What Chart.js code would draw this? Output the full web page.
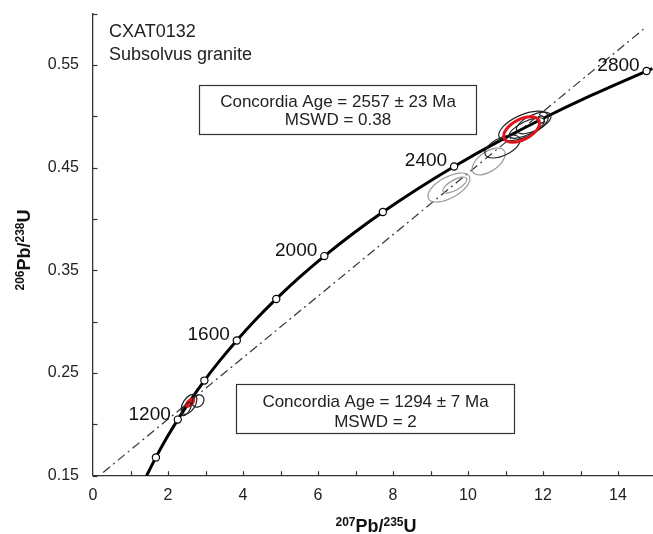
<!DOCTYPE html>
<html><head><meta charset="utf-8">
<script src="https://cdn.jsdelivr.net/npm/chart.js@4.4.0/dist/chart.umd.min.js"></script>
<style>html,body{margin:0;padding:0;background:#fff}#wrap{width:653px;height:534px}</style>
</head><body><div id="wrap"><canvas id="c" width="653" height="534"></canvas></div>
<script>
// Concordia curve (207Pb/235U vs 206Pb/238U), ages 900-2810 Ma
const concordiaAges = [900,1000,1100,1200,1300,1400,1500,1600,1700,1800,1900,2000,2100,2200,2300,2400,2500,2600,2700,2800,2810];
const concordiaX = [1.4263,1.6774,1.9545,2.2603,2.5977,2.9701,3.3810,3.8344,4.3348,4.8869,5.4962,6.1685,6.9105,7.7292,8.6326,9.6296,10.7297,11.9437,13.2834,14.7617,14.9177];
const concordiaY = [0.1498,0.1678,0.1861,0.2046,0.2234,0.2426,0.2620,0.2817,0.3018,0.3221,0.3428,0.3638,0.3851,0.4067,0.4287,0.4511,0.4738,0.4968,0.5202,0.5440,0.5464];
// Age markers (every 200 Ma)
const markerAges = [1000,1200,1400,1600,1800,2000,2200,2400,2600,2800];
const markerX = [1.6774,2.2603,2.9701,3.8344,4.8869,6.1685,7.7292,9.6296,11.9437,14.7617];
const markerY = [0.1678,0.2046,0.2426,0.2817,0.3221,0.3638,0.4067,0.4511,0.4968,0.5440];
const labelledAges = [1200,1600,2000,2400,2800];
// Discordia line
const discordiaX = [0.27,14.75];
const discordiaY = [0.1532,0.5868];
// Analysis ellipses: centre, half-extents in x / y, correlation
const grayX = [9.49,9.65,10.55];
const grayY = [0.4306,0.4330,0.4559];
const graySX = [0.56,0.32,0.44];
const graySY = [0.0141,0.0078,0.0131];
const grayRho = [0.6,0.7,0.55];
const blackX = [10.92,11.48,11.75,11.57,2.56,2.80,2.49];
const blackY = [0.4705,0.4905,0.4934,0.4885,0.2195,0.2227,0.2150];
const blackSX = [0.47,0.66,0.46,0.47,0.21,0.16,0.13];
const blackSY = [0.0112,0.0145,0.0105,0.0100,0.0097,0.0060,0.0065];
const blackRho = [0.55,0.6,0.6,0.7,0.5,0.2,0.6];
// Concordia-age ellipses
const ageX = [11.43,2.59];
const ageY = [0.4870,0.2212];
const ageSX = [0.477,0.135];
const ageSY = [0.0124,0.0050];
const ageRho = [0.5,0.5];
// Text
const sampleTitle = ['CXAT0132','Subsolvus granite'];
const box1Lines = ['Concordia Age = 2557 \u00b1 23 Ma','MSWD = 0.38'];
const box2Lines = ['Concordia Age = 1294 \u00b1 7 Ma','MSWD = 2'];
const xTickLabels = [0,2,4,6,8,10,12,14];
const yTickLabels = [0.15,0.25,0.35,0.45,0.55];

const FONT = '"Liberation Sans", Arial, sans-serif';
const zip = (a,b)=>a.map((v,i)=>({x:v,y:b[i]}));

function ellipsePath(ctx, xs, ys, cx, cy, sx, sy, rho){
  const px = xs.getPixelForValue(cx), py = ys.getPixelForValue(cy);
  const hw = Math.abs(xs.getPixelForValue(cx+sx)-px), hh = Math.abs(ys.getPixelForValue(cy+sy)-py);
  const sxx=hw*hw, syy=hh*hh, sxy=-rho*hw*hh;
  const th = 0.5*Math.atan2(2*sxy, sxx-syy);
  const m=(sxx+syy)/2, d=Math.sqrt(((sxx-syy)/2)**2+sxy*sxy);
  ctx.beginPath();
  ctx.ellipse(px,py,Math.sqrt(m+d),Math.sqrt(Math.max(m-d,0.05)),th,0,2*Math.PI);
}

const ellipsePlugin = {
  id:'ellipses',
  afterDatasetsDraw(chart){
    const ctx=chart.ctx, xs=chart.scales.x, ys=chart.scales.y;
    ctx.save();
    ctx.lineWidth=1.2; ctx.strokeStyle='#9a9a9a';
    grayX.forEach((v,i)=>{ellipsePath(ctx,xs,ys,v,grayY[i],graySX[i],graySY[i],grayRho[i]);ctx.stroke();});
    ctx.fillStyle='#e3131b';
    ellipsePath(ctx,xs,ys,ageX[1],ageY[1],ageSX[1],ageSY[1],ageRho[1]); ctx.fill();
    ctx.lineWidth=1.2; ctx.strokeStyle='#222';
    blackX.forEach((v,i)=>{ellipsePath(ctx,xs,ys,v,blackY[i],blackSX[i],blackSY[i],blackRho[i]);ctx.stroke();});
    ctx.lineWidth=3; ctx.strokeStyle='#e3131b';
    ellipsePath(ctx,xs,ys,ageX[0],ageY[0],ageSX[0],ageSY[0],ageRho[0]); ctx.stroke();
    ctx.restore();
  }
};

function drawSupTitle(ctx, parts, x, y, rotate){
  ctx.save();
  ctx.translate(x,y);
  if(rotate) ctx.rotate(-Math.PI/2);
  const mainF='bold 18px '+FONT, supF='bold 12px '+FONT;
  let w=0;
  parts.forEach(p=>{ctx.font=p[1]?supF:mainF; w+=ctx.measureText(p[0]).width;});
  let cx=-w/2;
  ctx.fillStyle='#111'; ctx.textBaseline='alphabetic'; ctx.textAlign='left';
  parts.forEach(p=>{ctx.font=p[1]?supF:mainF; ctx.fillText(p[0],cx,p[1]?-6:0); cx+=ctx.measureText(p[0]).width;});
  ctx.restore();
}

const decorPlugin = {
  id:'decor',
  afterDraw(chart){
    const ctx=chart.ctx, xs=chart.scales.x, ys=chart.scales.y, a=chart.chartArea;
    ctx.save();
    ctx.strokeStyle='#333'; ctx.lineWidth=1.2;
    xs.ticks.forEach(t=>{const p=Math.round(xs.getPixelForValue(t.value))+0.5; if(t.value<=0) return; ctx.beginPath(); ctx.moveTo(p,a.bottom); ctx.lineTo(p,a.bottom-4.5); ctx.stroke();});
    ys.ticks.forEach(t=>{const p=Math.round(ys.getPixelForValue(t.value))+0.5; ctx.beginPath(); ctx.moveTo(a.left,p); ctx.lineTo(a.left+4.5,p); ctx.stroke();});
    ctx.fillStyle='#111'; ctx.font='19px '+FONT; ctx.textAlign='right'; ctx.textBaseline='alphabetic';
    labelledAges.forEach(age=>{const i=markerAges.indexOf(age); const px=xs.getPixelForValue(markerX[i]), py=ys.getPixelForValue(markerY[i]); ctx.fillText(String(age),px-7,py);});
    ctx.textAlign='left'; ctx.font='18px '+FONT; ctx.fillStyle='#222';
    ctx.fillText(sampleTitle[0],109,37); ctx.fillText(sampleTitle[1],109,60);
    const box=(l,t,r,b,lines,b1,b2)=>{
      ctx.fillStyle='#fff'; ctx.fillRect(l,t,r-l,b-t);
      ctx.strokeStyle='#333'; ctx.lineWidth=1.2; ctx.strokeRect(l+0.5,t+0.5,r-l,b-t);
      ctx.fillStyle='#222'; ctx.font='17px '+FONT; ctx.textAlign='center';
      ctx.fillText(lines[0],(l+r)/2+0.5,b1); ctx.fillText(lines[1],(l+r)/2+0.5,b2);
    };
    box(199,85,476,134,box1Lines,107,125);
    box(236,384,514,433,box2Lines,407,427);
    drawSupTitle(ctx,[['207',true],['Pb/',false],['235',true],['U',false]],376,532,false);
    drawSupTitle(ctx,[['206',true],['Pb/',false],['238',true],['U',false]],30,250,true);
    ctx.restore();
  }
};

new Chart(document.getElementById('c'),{
  type:'scatter',
  data:{datasets:[
    {label:'Discordia',data:zip(discordiaX,discordiaY),showLine:true,borderColor:'#333',borderWidth:1.2,borderDash:[9,4,2,4],pointRadius:0,order:3},
    {label:'Concordia',data:zip(concordiaX,concordiaY),showLine:true,borderColor:'#000',borderWidth:3,pointRadius:0,cubicInterpolationMode:'monotone',order:2},
    {label:'Ages',data:zip(markerX,markerY),showLine:false,pointRadius:3.6,pointBackgroundColor:'#fff',pointBorderColor:'#000',pointBorderWidth:1.2,order:1}
  ]},
  options:{
    responsive:false, animation:false, devicePixelRatio:1,
    layout:{autoPadding:false,padding:{top:13.5,right:0,left:0,bottom:0}},
    plugins:{legend:{display:false},tooltip:{enabled:false}},
    scales:{
      x:{type:'linear',min:0,max:14.933,
        grid:{display:true,drawOnChartArea:false,drawTicks:false},
        border:{display:true,color:'#333',width:1.3},
        ticks:{stepSize:1,includeBounds:false,autoSkip:false,maxRotation:0,padding:10,color:'#222',font:{size:16,family:FONT},
          callback:v=>xTickLabels.includes(v)?String(v):''},
        afterFit:s=>{s.height=58.3; s.paddingLeft=0; s.paddingRight=0;}
      },
      y:{type:'linear',min:0.15,max:0.6,
        grid:{display:true,drawOnChartArea:false,drawTicks:false},
        border:{display:true,color:'#333',width:1.3},
        ticks:{stepSize:0.05,autoSkip:false,padding:14,color:'#222',font:{size:16,family:FONT},
          callback:v=>{const r=Math.round(v*100)/100; return yTickLabels.includes(r)?r.toFixed(2):'';}},
        afterFit:s=>{s.width=93; s.paddingTop=0; s.paddingBottom=0;}
      }
    }
  },
  plugins:[ellipsePlugin,decorPlugin]
});
</script></body></html>
